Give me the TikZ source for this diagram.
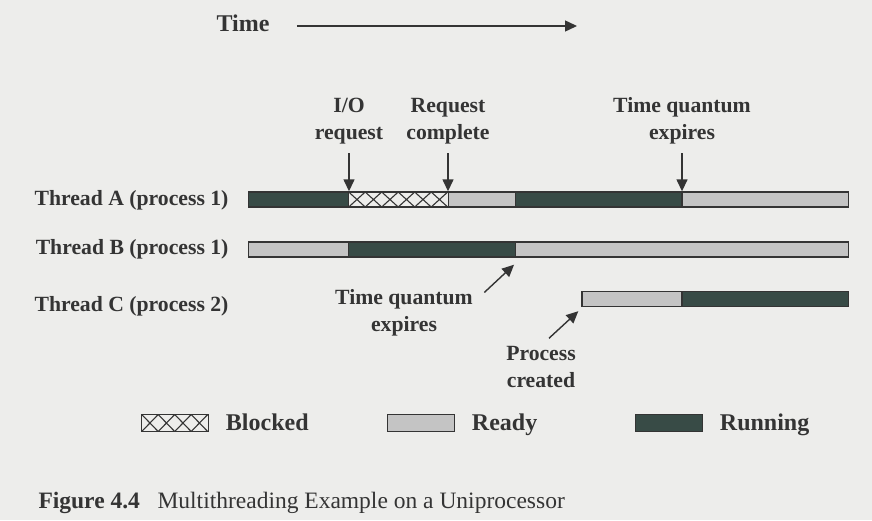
\documentclass[tikz,border=0pt]{standalone}
\usepackage{fontspec}
\setmainfont{Liberation Serif}
\usetikzlibrary{arrows.meta}

\definecolor{page}{RGB}{237,237,235}
\definecolor{ink}{RGB}{52,52,52}
\definecolor{runfill}{RGB}{56,75,70}
\definecolor{readyfill}{RGB}{196,196,196}

\begin{document}
\begin{tikzpicture}[x=1pt, y=-1pt,
    every node/.style={text=ink, font=\fontsize{21.7}{27}\selectfont\bfseries},
    seg/.style={rectangle, draw=ink, line width=1.4pt, inner sep=0pt, minimum height=15pt, anchor=west},
    running/.style={fill=runfill},
    ready/.style={fill=readyfill},
    blocked/.style={fill=page, path picture={
        \foreach \k in {0,...,9}
            \draw[ink, line width=1.1pt]
                ([xshift=\k*16.5pt]path picture bounding box.north west)
                -- ([xshift=(\k+1)*16.5pt]path picture bounding box.north west |- path picture bounding box.south)
                ([xshift=\k*16.5pt]path picture bounding box.north west |- path picture bounding box.south)
                -- ([xshift=(\k+1)*16.5pt]path picture bounding box.north west);
    }},
    arr/.style={draw=ink, line width=1.4pt, -{Triangle[length=12pt, width=11pt]}},
    lbl/.style={align=center, anchor=base},
    big/.style={font=\fontsize{24}{28}\selectfont\bfseries}]

    \fill[page] (0,0) rectangle (872,520);
    \useasboundingbox (0,0) rectangle (872,520);

    % time axis
    \node[big, anchor=base west] (time) at (213,31) {Time};
    \coordinate (tend) at (577,26);
    \draw[arr, shorten <=24pt] (time.east |- tend) -- (tend);

    % draw threads
    \foreach \t/\p/\y in {A/1/205, B/1/254, C/2/311}
        \node[anchor=base east] (thr\t) at (232,\y) {Thread \t{} (process \p)};

    \foreach [count=\i] \s/\e/\st in {0/3/running, 3/6/blocked, 6/8/ready, 8/13/running, 13/18/ready}
        \node[seg, \st, minimum width={(\e-\s)*33.333pt}] (A\i) at ({248+\s*33.333},199.5) {};
    \foreach [count=\i] \s/\e/\st in {0/3/ready, 3/8/running, 8/18/ready}
        \node[seg, \st, minimum width={(\e-\s)*33.333pt}] (B\i) at ({248+\s*33.333},249.5) {};
    \foreach [count=\i] \s/\e/\st in {10/13/ready, 13/18/running}
        \node[seg, \st, minimum width={(\e-\s)*33.333pt}] (C\i) at ({248+\s*33.333},299) {};

    % draw events (base is the second line)
    \node[lbl] (io) at (349,139) {I/O\\request};
    \node[lbl] (rc) at (448,139) {Request\\complete};
    \node[lbl] (tqA) at (682,139) {Time quantum\\expires};
    \node[lbl] (tqB) at (404,331) {Time quantum\\expires};
    \node[lbl] (pc) at (541,387) {Process\\created};

    \foreach \n/\b in {io/A1, rc/A2, tqA/A4}
        \draw[arr, shorten <=6pt] (\n.south) -- (\n.south |- \b.north east);
    \draw[arr] ([xshift=8pt, yshift=-7pt]tqB.north east) -- ([xshift=-2pt, yshift=-7pt]B2.south east);
    \draw[arr] ([xshift=8pt, yshift=4pt]pc.north) -- ([xshift=-3pt, yshift=-4pt]C1.south west);

    % draw legend
    \foreach [count=\i] \x/\st/\txt in {141/blocked/Blocked, 387/ready/Ready, 635/running/Running}{
        \node[seg, \st, minimum width=67pt, minimum height=17pt] (key\i) at (\x,423) {};
        \node[big, anchor=base west] (keytxt\i) at ([xshift=13pt, yshift=-7pt]key\i.east) {\txt};
    }

    \node[anchor=base west, font=\fontsize{23.5}{28}\selectfont] (cap) at (35,508)
        {\textbf{Figure 4.4}\hspace{0.75em}Multithreading Example on a Uniprocessor};

\end{tikzpicture}
\end{document}
